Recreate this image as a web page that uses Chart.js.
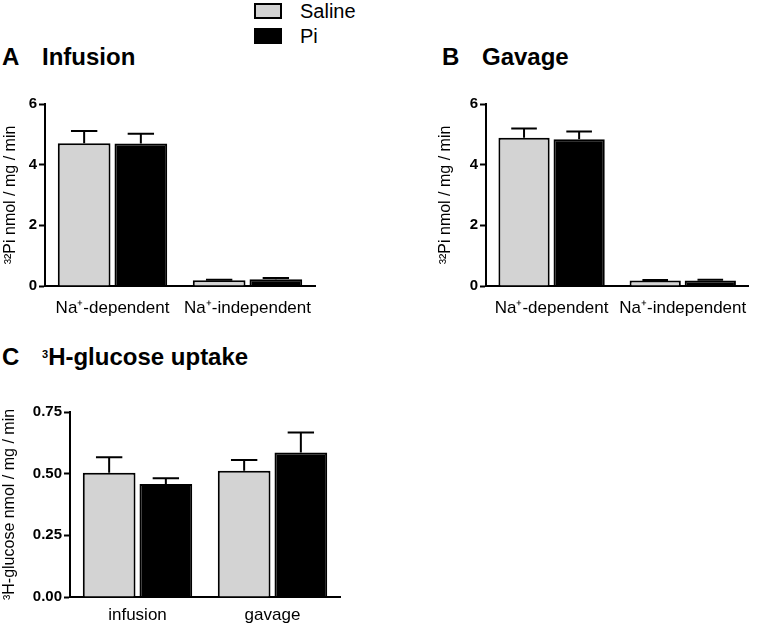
<!DOCTYPE html>
<html>
<head>
<meta charset="utf-8">
<script src="https://cdn.jsdelivr.net/npm/chart.js@4.4.1/dist/chart.umd.min.js"></script>
<style>
    body { margin: 0; background: #fff; font-family: 'Liberation Sans', Arial, sans-serif; }
    #page { position: relative; width: 762px; height: 626px; overflow: hidden; }
    .box { position: absolute; }
    .title { position: absolute; font-weight: bold; font-size: 24px; line-height: 24px; color: #000; }
    .title sup { font-size: 11px; position: relative; top: -3px; vertical-align: top; }
    .legend-swatch { position: absolute; width: 24px; height: 12px; border: 2px solid #000; }
    .legend-text { position: absolute; font-size: 20px; line-height: 20px; }
</style>
</head>
<body>
<div id="page">
    <div class="legend-swatch" style="left:254px; top:3px; background:#d3d3d3;"></div>
    <div class="legend-text" style="left:300px; top:1px;">Saline</div>
    <div class="legend-swatch" style="left:254px; top:28px; background:#000;"></div>
    <div class="legend-text" style="left:300px; top:26px;">Pi</div>

    <div class="title" style="left:2px; top:45px;">A</div>
    <div class="title" style="left:42px; top:45px;">Infusion</div>
    <div class="title" style="left:442px; top:45px;">B</div>
    <div class="title" style="left:482px; top:45px;">Gavage</div>
    <div class="title" style="left:2px; top:345px;">C</div>
    <div class="title" style="left:42px; top:345px;"><sup>3</sup>H-glucose uptake</div>

    <div class="box" style="left:0px; top:80px; width:335px; height:250px;"><canvas id="grafico-a"></canvas></div>
    <div class="box" style="left:420px; top:80px; width:340px; height:250px;"><canvas id="grafico-b"></canvas></div>
    <div class="box" style="left:0px; top:390px; width:345px; height:236px;"><canvas id="grafico-c"></canvas></div>
</div>

<script>
// categorias
const naLabels = ['Na\u207A-dependent', 'Na\u207A-independent'];
const glucoseLabels = ['infusion', 'gavage'];

// A - infusion (32Pi uptake)
const infusaoSaline = [4.71, 0.19];
const infusaoSalineErr = [0.40, 0.02];
const infusaoPi = [4.70, 0.22];
const infusaoPiErr = [0.32, 0.04];

// B - gavage (32Pi uptake)
const gavagemSaline = [4.89, 0.18];
const gavagemSalineErr = [0.30, 0.02];
const gavagemPi = [4.84, 0.18];
const gavagemPiErr = [0.25, 0.03];

// C - 3H-glucose uptake
const glicoseSaline = [0.504, 0.512];
const glicoseSalineErr = [0.063, 0.043];
const glicosePi = [0.458, 0.586];
const glicosePiErr = [0.023, 0.081];

const piTicks = [0, 2, 4, 6];
const glucoseTicks = [0, 0.25, 0.5, 0.75];

const FONT = "'Liberation Sans', Arial, sans-serif";

// desenha só a barra de erro superior (estilo GraphPad)
const errorBarPlugin = {
    id: 'errorBars',
    afterDatasetsDraw(chart) {
        const ctx = chart.ctx;
        const yScale = chart.scales.y;
        chart.data.datasets.forEach((ds, i) => {
            const meta = chart.getDatasetMeta(i);
            meta.data.forEach((bar, j) => {
                const top = yScale.getPixelForValue(ds.data[j] + ds.errors[j]);
                const half = bar.width / 4;
                ctx.save();
                ctx.strokeStyle = '#000';
                ctx.lineWidth = 2;
                ctx.beginPath();
                ctx.moveTo(bar.x, bar.y);
                ctx.lineTo(bar.x, top);
                ctx.moveTo(bar.x - half, top);
                ctx.lineTo(bar.x + half, top);
                ctx.stroke();
                ctx.restore();
            });
        });
    }
};

function criarGrafico(id, labels, saline, salineErr, pi, piErr, opts) {
    const ctx = document.getElementById(id).getContext('2d');
    return new Chart(ctx, {
        type: 'bar',
        data: {
            labels: labels,
            datasets: [{
                label: 'Saline',
                data: saline,
                errors: salineErr,
                backgroundColor: '#d3d3d3',
                borderColor: '#000',
                borderWidth: 2,
                categoryPercentage: 0.84,
                barPercentage: 0.93
            }, {
                label: 'Pi',
                data: pi,
                errors: piErr,
                backgroundColor: '#000',
                borderColor: '#000',
                borderWidth: 2,
                categoryPercentage: 0.84,
                barPercentage: 0.93
            }]
        },
        options: {
            responsive: true,
            maintainAspectRatio: false,
            animation: false,
            layout: { padding: { top: opts.top, right: opts.right, left: 0, bottom: 0 } },
            plugins: {
                legend: { display: false },
                tooltip: { enabled: false }
            },
            scales: {
                x: {
                    grid: { display: false, drawTicks: false },
                    border: { display: true, color: '#000', width: 2 },
                    ticks: { color: '#000', padding: opts.xPad, font: { family: FONT, size: 17 } },
                    afterFit: (scale) => { scale.height = opts.xHeight; }
                },
                y: {
                    min: 0,
                    max: opts.max,
                    afterBuildTicks: (scale) => {
                        scale.ticks = opts.ticks.map(v => ({ value: v }));
                    },
                    grid: { display: true, drawOnChartArea: false, drawTicks: true, tickLength: 6, tickWidth: 2, tickColor: '#000' },
                    border: { display: true, color: '#000', width: 2 },
                    ticks: {
                        color: '#000',
                        padding: 2,
                        font: { family: FONT, size: 15, weight: 'bold' },
                        callback: (v) => opts.fmt(v)
                    },
                    title: {
                        display: true,
                        text: opts.yTitle,
                        color: '#000',
                        padding: { top: opts.titlePad, bottom: 0 },
                        font: { family: FONT, size: 16 }
                    },
                    afterFit: (scale) => { scale.width = opts.yWidth; }
                }
            }
        },
        plugins: [errorBarPlugin]
    });
}

criarGrafico('grafico-a', naLabels, infusaoSaline, infusaoSalineErr, infusaoPi, infusaoPiErr, {
    top: 24, right: 20, xHeight: 44, xPad: 12, yWidth: 45, titlePad: 1, max: 6, ticks: piTicks,
    fmt: (v) => String(v), yTitle: '\u00B3\u00B2Pi nmol / mg / min'
});

criarGrafico('grafico-b', naLabels, gavagemSaline, gavagemSalineErr, gavagemPi, gavagemPiErr, {
    top: 24, right: 7, xHeight: 44, xPad: 12, yWidth: 66, titlePad: 16, max: 6, ticks: piTicks,
    fmt: (v) => String(v), yTitle: '\u00B3\u00B2Pi nmol / mg / min'
});

criarGrafico('grafico-c', glucoseLabels, glicoseSaline, glicoseSalineErr, glicosePi, glicosePiErr, {
    top: 22, right: 5, xHeight: 29, xPad: 8, yWidth: 70, titlePad: 0, max: 0.75, ticks: glucoseTicks,
    fmt: (v) => v.toFixed(2), yTitle: '\u00B3H-glucose nmol / mg / min'
});
</script>
</body>
</html>
